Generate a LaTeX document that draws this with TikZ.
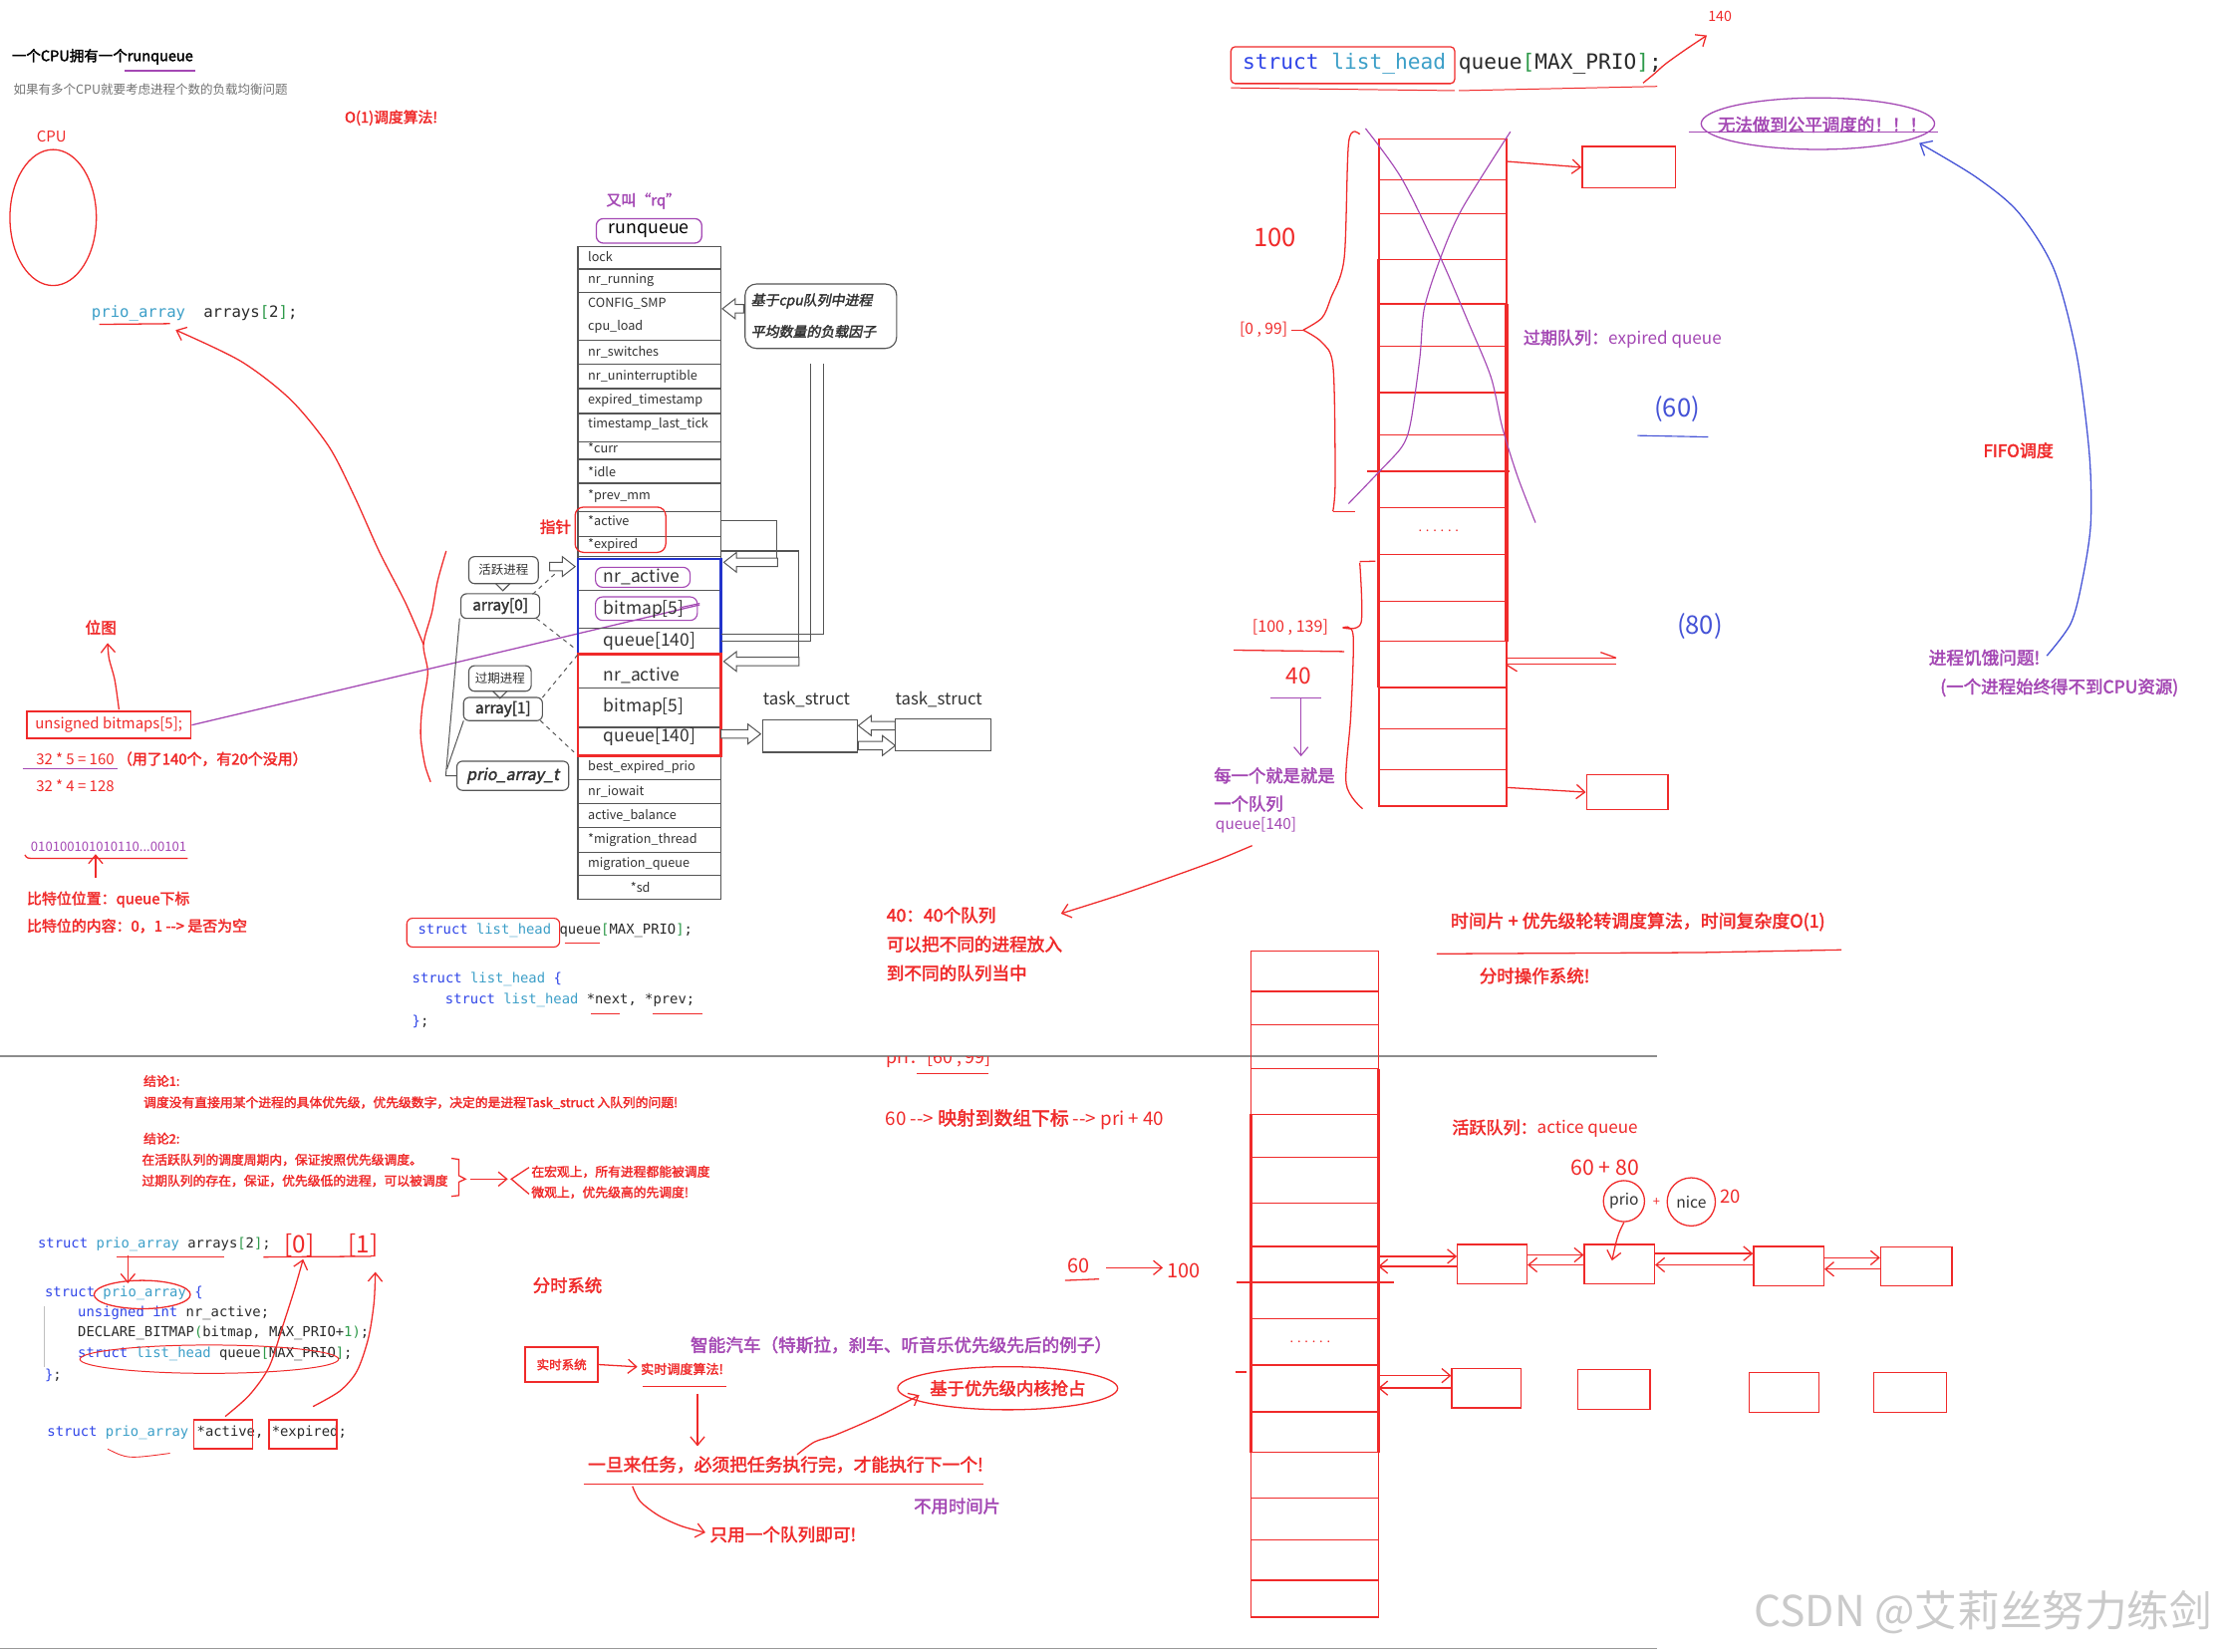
\documentclass[tikz,border=0pt]{standalone}
\usepackage{fontspec}
\setmainfont{Noto Sans CJK SC}[AutoFakeBold=2.2,AutoFakeSlant=0.2]
\newfontfamily\codefont{DejaVu Sans Mono}
\usetikzlibrary{arrows.meta,shapes.geometric}
\definecolor{rd}{HTML}{F02A2A}
\definecolor{pu}{HTML}{A448B4}
\definecolor{hb}{HTML}{4452D6}
\definecolor{bx}{HTML}{2233CC}
\definecolor{kw}{HTML}{2F45E8}
\definecolor{ty}{HTML}{3C9FC8}
\definecolor{cd}{HTML}{2A2A2A}
\definecolor{gr}{HTML}{2E9A4A}
\definecolor{ln}{HTML}{555555}
\definecolor{tt}{HTML}{333333}
\definecolor{wm}{HTML}{CACACA}
\newcommand\fsz[1]{\fontsize{#1}{#1}\selectfont}
\newcommand\blkL[3]{\draw[ln,fill=white,line width=0.7pt] (#1,#2) -- ++(9,-7) -- ++(0,4) -- ++(#3-9,0) -- ++(0,6) -- ++(9-#3,0) -- ++(0,4) -- cycle;}
\newcommand\blkR[3]{\draw[ln,fill=white,line width=0.7pt] (#1,#2) -- ++(-9,-7) -- ++(0,4) -- ++(9-#3,0) -- ++(0,6) -- ++(#3-9,0) -- ++(0,4) -- cycle;}
\tikzset{
  tx/.style={inner sep=0pt,anchor=west},
  txc/.style={inner sep=0pt,anchor=center},
  rline/.style={rd,line width=0.9pt},
  rarr/.style={rd,line width=0.9pt,-{Straight Barb[length=6pt,width=10pt]}},
  tbl/.style={ln,line width=0.8pt},
  qbox/.style={draw=rd,line width=0.9pt,inner sep=0pt},
  rbub/.style={draw=ln,rounded corners=4pt,line width=0.8pt,inner sep=0pt},
  code/.style={inner sep=0pt,anchor=west,font=\codefont\fsz{9.75}},
}
\begin{document}
\begin{tikzpicture}[x=1pt,y=-1pt]
\useasboundingbox (0,0) rectangle (1568,1166);
\fill[white] (0,0) rectangle (1568,1166);

% ---------------- top left ----------------
\node[tx] (title) at (8.2,40) {\fsz{10.2}\bfseries 一个CPU拥有一个runqueue};
\draw[pu,line width=0.9pt] (88,50) -- (137.6,50);
\node[tx] (sub) at (9.4,63.3) {\fsz{8.8}\color{black!55}如果有多个CPU就要考虑进程个数的负载均衡问题};
\node[tx] (o1) at (243.2,83.2) {\fsz{10.4}\bfseries\color{rd}O(1)调度算法!};
\node[tx] (cpul) at (25.8,96.6) {\fsz{10.5}\color{rd}CPU};
\node[draw=rd,ellipse,minimum width=61pt,minimum height=96pt,inner sep=0pt,line width=0.9pt] (cpu) at (37.5,153.6) {};
\node[tx] (pa1) at (64.5,220.9) {\codefont\fsz{11}\color{ty}prio\_array};
\node[tx] (pa2) at (143.5,220.9) {\codefont\fsz{11}\color{cd}arrays\color{gr}[\color{cd}2\color{gr}]\color{cd};};
\draw[rline] (70,229) -- (120,228.5);

% long red curve and brace
\draw[rarr] plot[smooth] coordinates {(299,455) (286,425) (268,390) (250,350) (232,315) (205,282) (170,255) (124,233)};
\draw[rline] plot[smooth] coordinates {(315,389) (309,410) (305,432) (299,455) (302,475) (298,500) (297,520) (300,540) (304,552)};

% bitmap area
\node[tx] (wt) at (60,443) {\fsz{11}\bfseries\color{rd}位图};
\draw[rarr] plot[smooth] coordinates {(84,501) (81,480) (77,465) (76,454)};
\node[draw=rd,line width=1.2pt,minimum width=116pt,minimum height=19.2pt,inner sep=0pt] (bmbox) at (76.8,511.9) {\fsz{10.5}\color{rd}unsigned bitmaps[5];};
\draw[pu,line width=0.9pt] (bmbox.east) -- (494,427);
\node[tx] (c160) at (25.3,535.8) {\fsz{10.5}\color{rd}32 * 5 = 160 {\bfseries（用了140个，有20个没用）}};
\draw[pu,line width=0.9pt] (15.9,542.8) -- (83.2,542.8);
\node[tx] (c128) at (25.3,554.5) {\fsz{10.5}\color{rd}32 * 4 = 128};
\node[tx] (bits) at (21.6,598) {\fsz{9.2}\color{pu}010100101010110...00101};
\draw[rline] (17.6,603.5) .. controls (19,606) .. (25,606) -- (132.5,606);
\draw[rarr] (67.5,620) -- (67.5,603);
\node[tx] (bp1) at (18.8,635) {\fsz{10.5}\bfseries\color{rd}比特位位置：queue下标};
\node[tx] (bp2) at (18.8,653.7) {\fsz{10.5}\bfseries\color{rd}比特位的内容：0，1 -{}-> 是否为空};

% ---------------- runqueue ----------------
\node[txc] (alias) at (454.3,141.9) {\fsz{10.5}\bfseries\color{pu}又叫“rq”};
\node[draw=pu,rounded corners=5pt,line width=0.9pt,minimum width=74.5pt,minimum height=17.3pt,inner sep=0pt] (rq) at (458.2,163) {\fsz{12.5}runqueue};
\node[draw=ln,line width=0.8pt,minimum width=101pt,minimum height=460.5pt,inner sep=0pt] (rqt) at (458.5,404.45) {};
\foreach \y in {189.9,206.3,240.3,257.2,274.3,291.9,311.8,324.3,341.2,361.1,378.7,392.7,550.5,567.5,584.5,601.5,618}
  \draw[tbl] (408,\y) -- (509,\y);
\begin{scope}[every node/.style={tx,font=\fsz{8.9}\color{tt}}]
\node (f1) at (415,181.5) {lock};
\node (f2) at (415,197.5) {nr\_running};
\node (f3) at (415,214) {CONFIG\_SMP};
\node (f4) at (415,231) {cpu\_load};
\node (f5) at (415,248.5) {nr\_switches};
\node (f6) at (415,265.5) {nr\_uninterruptible};
\node (f7) at (415,282.5) {expired\_timestamp};
\node (f8) at (415,299.5) {timestamp\_last\_tick};
\node (f9) at (415,316.5) {*curr};
\node (f10) at (415,333) {*idle};
\node (f11) at (415,350.5) {*prev\_mm};
\node (f12) at (415,367.5) {*active};
\node (f13) at (415,384.5) {*expired};
\node (f14) at (415,541.5) {best\_expired\_prio};
\node (f15) at (415,559) {nr\_iowait};
\node (f16) at (415,576) {active\_balance};
\node (f17) at (415,593) {*migration\_thread};
\node (f18) at (415,610) {migration\_queue};
\node (f19) at (445,626.5) {*sd};
\end{scope}
% blue and red blocks
\draw[tbl] (408,417) -- (509,417); \draw[tbl] (408,443.6) -- (509,443.6);
\draw[tbl] (408,485.8) -- (509,485.8); \draw[tbl] (408,513.5) -- (509,513.5);
\draw[bx,line width=1.6pt] (408,394.4) rectangle (509,461.9);
\draw[rd,line width=1.8pt] (408,461.9) rectangle (509,533.4);
\begin{scope}[every node/.style={tx,font=\fsz{12.3}\color{tt}}]
\node (a1) at (426,407.6) {nr\_active};
\node (a2) at (426,430) {bitmap[5]};
\node (a3) at (426,452.5) {queue[140]};
\node (e1) at (426,477) {nr\_active};
\node (e2) at (426,499) {bitmap[5]};
\node (e3) at (426,520.5) {queue[140]};
\end{scope}
\draw[pu,rounded corners=5pt,line width=0.8pt] (420.4,400.5) rectangle (487.2,414.6);
\draw[pu,rounded corners=5pt,line width=0.8pt] (420.4,421.4) rectangle (492.3,438);
\draw[pu,line width=0.8pt] (480,429) -- (494,426);
% pointer highlight
\draw[rd,rounded corners=6pt,line width=0.9pt] (406,358) rectangle (470,390);
\node[tx] (zz) at (381,372) {\fsz{11}\bfseries\color{rd}指针};
% connectors on the right
\draw[tbl] (509,367.5) -- (548.4,367.5) -- (548.4,394);
\blkL{511}{397}{38}
\draw[tbl] (509,447.8) -- (581.7,447.8) -- (581.7,257);
\draw[tbl] (509,452.5) -- (572,452.5) -- (572,257);
\draw[tbl] (509,389) -- (563.7,389) -- (563.7,464);
\blkL{511}{467}{53}
% callout
\node[rbub,rounded corners=8pt,minimum width=107pt,minimum height=45.5pt] (load) at (579.5,223.25) {};
\node[tx] (load1) at (530,212.5) {\fsz{9.8}\bfseries\itshape\color{tt}基于cpu队列中进程};
\node[tx] (load2) at (530,234) {\fsz{9.8}\bfseries\itshape\color{tt}平均数量的负载因子};
\blkL{510}{218}{15}
% left labels
\node[rbub,minimum width=49pt,minimum height=19pt] (act) at (355.5,402.5) {\fsz{8.8}\color{tt}活跃进程};
\draw[ln,line width=0.8pt] (350,412) -- (355,417) -- (360,412);
\node[rbub,minimum width=55.6pt,minimum height=17.4pt] (arr0) at (353.2,427.9) {\fsz{10.8}\bfseries\color{tt}array[0]};
\node[rbub,minimum width=44pt,minimum height=18pt] (exp) at (353,479) {\fsz{8.8}\color{tt}过期进程};
\draw[ln,line width=0.8pt] (348,488) -- (353,493) -- (358,488);
\node[rbub,minimum width=55.7pt,minimum height=16.4pt] (arr1) at (355.1,500.6) {\fsz{10.8}\bfseries\color{tt}array[1]};
\node[rbub,minimum width=79pt,minimum height=20.6pt] (pat) at (362,547.7) {\fsz{11.3}\bfseries\itshape\color{tt}prio\_array\_t};
\blkR{406}{400}{18}
\draw[ln,line width=0.7pt] (pat.west) -- (314.7,547.7) -- (324.5,436.6);
\draw[ln,line width=0.7pt] (315.5,543) -- (327.3,508.8);
\draw[ln,dashed,line width=0.7pt] (376,419.5) -- (392,405);
\draw[ln,dashed,line width=0.7pt] (378.7,436.6) -- (406.6,458.4);
\draw[ln,dashed,line width=0.7pt] (383,492.4) -- (408,462);
\draw[ln,dashed,line width=0.7pt] (381.5,508.8) -- (405.2,531);
% task_struct
\node[tx] (ts1l) at (538.6,493.6) {\fsz{11.8}\color{tt}task\_struct};
\node[tx] (ts2l) at (632,493.6) {\fsz{11.8}\color{tt}task\_struct};
\node[draw=ln,line width=0.8pt,minimum width=66.8pt,minimum height=22.8pt,inner sep=0pt] (ts1) at (572,519.7) {};
\node[draw=ln,line width=0.8pt,minimum width=67.6pt,minimum height=22.4pt,inner sep=0pt] (ts2) at (665.6,518.8) {};
\blkR{537}{518.2}{28}
\blkL{606}{512.3}{26}
\blkR{632}{526.4}{26}

% code under runqueue
\draw[rd,rounded corners=4pt,line width=0.8pt] (287.2,648.3) rectangle (395.1,668.6);
\node[code] (lh1) at (295,657.2) {\color{kw}struct \color{ty}list\_head \color{cd}queue\color{gr}[\color{cd}MAX\_PRIO\color{gr}]\color{cd};};
\node[code] (lh2) at (290.8,691.2) {\color{kw}struct \color{ty}list\_head \color{kw}\{};
\node[code] (lh3) at (314.2,706.2) {\color{kw}struct \color{ty}list\_head \color{cd}*next, *prev;};
\node[code] (lh4) at (290.8,721.2) {\color{kw}\}\color{cd};};
\draw[rline,line width=0.6pt] (398.6,666) -- (423.2,666);
\draw[rline,line width=0.6pt] (417.4,715.5) -- (437.3,715.5);
\draw[rline,line width=0.6pt] (460.7,715.5) -- (496,715.5);

% dividers
\draw[black!45,line width=1.2pt] (0,745.5) -- (1170,745.5);
\draw[black!40,line width=1pt] (0,1164) -- (1170,1164);

% ---------------- conclusions ----------------
\begin{scope}[every node/.style={tx,font=\fsz{9}\bfseries\color{rd}}]
\node (k1) at (101.2,763.2) {结论1:};
\node (k1t) at (101.2,778.5) {调度没有直接用某个进程的具体优先级，优先级数字，决定的是进程Task\_struct 入队列的问题!};
\node (k2) at (101.2,803.8) {结论2:};
\node (k2a) at (100,818.8) {在活跃队列的调度周期内，保证按照优先级调度。};
\node (k2b) at (100,833.6) {过期队列的存在，保证，优先级低的进程，可以被调度};
\node (m1) at (375,827.2) {在宏观上，所有进程都能被调度};
\node (m2) at (375,841.8) {微观上，优先级高的先调度!};
\end{scope}
\draw[rline] (318.7,817.8) -- (324,818.5) -- (324,830) -- (328.6,832.4) -- (324,834.5) -- (324,844) -- (318.7,844.6);
\draw[rarr] (332,832.4) -- (358.5,832.4);
\draw[rline] (373.5,824.2) -- (361,832.4) -- (373.5,843);

% code bottom left
\node[code] (pc1) at (26.6,878.6) {\color{kw}struct \color{ty}prio\_array \color{cd}arrays\color{gr}[\color{cd}2\color{gr}]\color{cd};};
\draw[rline] (82.5,887.5) -- (158,887.5);
\draw[rline] (186,887.5) -- (262,887);
\node[tx] (i0) at (200.8,879.3) {\fsz{17}\color{rd}[0]};
\node[tx] (i1) at (245.7,879.3) {\fsz{17}\color{rd}[1]};
\draw[rarr] (90.3,886) -- (90.3,906);
\node[code] (pc2) at (31.5,913.3) {\color{kw}struct \color{ty}prio\_array \color{kw}\{};
\node[code] (pc3) at (54.8,927.3) {\color{kw}unsigned int \color{cd}nr\_active;};
\node[code] (pc4) at (54.8,941.4) {\color{cd}DECLARE\_BITMAP\color{gr}(\color{cd}bitmap, MAX\_PRIO+\color{gr}1)\color{cd};};
\node[code] (pc5) at (54.8,956.2) {\color{kw}struct \color{ty}list\_head \color{cd}queue\color{gr}[\color{cd}MAX\_PRIO\color{gr}]\color{cd};};
\node[code] (pc6) at (31.5,970.7) {\color{kw}\}\color{cd};};
\draw[black!25,line width=0.8pt] (31.5,922) -- (31.5,965);
\draw[rline] (100.4,914) ellipse [x radius=34, y radius=10];
\draw[rline,line width=0.7pt] (147.7,959.6) ellipse [x radius=91.3, y radius=10];
\node[code] (pc7) at (33.2,1011.3) {\color{kw}struct \color{ty}prio\_array \color{cd}*active, *expired;};
\draw[rd,line width=1.2pt] (136.8,1002.4) rectangle (178.3,1022.8);
\draw[rd,line width=1.2pt] (190,1002.4) rectangle (238,1022.8);
\draw[rline,line width=0.6pt] (76,1023) .. controls (90,1030) .. (120,1026);
\draw[rarr] plot[smooth] coordinates {(159,1000) (176,985) (190,965) (200,935) (208,910) (214,889)};
\draw[rarr] plot[smooth] coordinates {(221,993) (240,982) (252,968) (260,945) (264,920) (265,898)};

% ---------------- bottom middle ----------------
\node[tx] (fs) at (376,907.4) {\fsz{12.2}\bfseries\color{rd}分时系统};
\node[tx] (car) at (487.3,949.6) {\fsz{12.4}\bfseries\color{pu}智能汽车（特斯拉，刹车、听音乐优先级先后的例子）};
\node[draw=rd,line width=1.2pt,minimum width=51.2pt,minimum height=25pt,inner sep=0pt] (rts) at (396.5,963.4) {\fsz{8.8}\bfseries\color{rd}实时系统};
\draw[rarr] (rts.east) -- (450,965);
\node[tx] (rta) at (452.2,966.5) {\fsz{9.2}\bfseries\color{rd}实时调度算法!};
\draw[rline] (453.7,979) -- (513,979);
\draw[rarr] (492.4,984) -- (492.4,1021);
\node[tx] (once) at (414.9,1034) {\fsz{12.5}\bfseries\color{rd}一旦来任务，必须把任务执行完，才能执行下一个!};
\draw[rline] (412,1047.6) -- (694,1047.6);
\node[draw=rd,ellipse,minimum width=122pt,minimum height=30.4pt,inner sep=0pt,line width=0.9pt] (pre) at (711.4,980.1) {\fsz{12.2}\bfseries\color{rd}基于优先级内核抢占};
\draw[rarr] plot[smooth] coordinates {(562.7,1027) (575,1018) (590,1013) (620,1000) (649,985)};
\node[tx] (nots) at (645,1063.3) {\fsz{12.2}\bfseries\color{pu}不用时间片};
\draw[rarr] plot[smooth] coordinates {(446.5,1049.3) (452,1060) (465,1070) (481,1077.4) (498,1082)};
\node[tx] (one) at (501,1083.3) {\fsz{12.4}\bfseries\color{rd}只用一个队列即可!};

% ---------------- middle ----------------
\begin{scope}[every node/.style={tx,font=\fsz{12.4}\bfseries\color{rd}}]
\node (q40a) at (625.7,646) {40：40个队列};
\node (q40b) at (625.7,666.6) {可以把不同的进程放入};
\node (q40c) at (625.7,687) {到不同的队列当中};
\end{scope}
\draw[rarr] plot[smooth] coordinates {(884,597) (860,607) (830,618) (790,632) (749,645)};
\begin{scope}
\clip (600,746.3) rectangle (720,765);
\node[tx] (pri) at (625.7,747.5) {\fsz{12.5}\color{rd}pri：[60 , 99]};
\end{scope}
\draw[rline] (647.3,758) -- (697.5,758);
\node[tx] (map) at (624.9,790.2) {\fsz{13.2}\color{rd}60 -{}-> {\bfseries 映射到数组下标} -{}-> pri + 40};
\node[tx] (h60) at (753.7,893.4) {\fsz{14}\color{rd}60};
\draw[rline] (751.9,904) -- (776,903);
\draw[rarr] (781,895) -- (821,895);
\node[tx] (h100) at (824,897) {\fsz{14}\color{rd}100};

% ---------------- top right ----------------
\draw[rd,rounded corners=3pt,line width=0.9pt] (869,33) rectangle (1027,59);
\draw[rline,line width=0.7pt] (869,62) -- (1027,64);
\draw[rline,line width=0.7pt] (1030,64) -- (1170,61);
\node[tx] (qm) at (877,45.3) {\codefont\fsz{14.9}\color{kw}struct \color{ty}list\_head \color{cd}queue\color{gr}[\color{cd}MAX\_PRIO\color{gr}]\color{cd};};
\draw[rarr] plot[smooth] coordinates {(1160,58.6) (1168,52) (1176,45) (1190,35) (1205,25)};
\node[tx] (n140) at (1205.7,11.7) {\fsz{10}\color{rd}140};
\node[draw=pu,ellipse,minimum width=164.8pt,minimum height=36.4pt,inner sep=0pt,line width=0.9pt] (fair) at (1283.4,87.3) {};
\node[tx] (fairt) at (1212.5,87.9) {\fsz{12.3}\bfseries\color{pu}无法做到公平调度的！！！};
\draw[pu,line width=0.9pt] (1192,93.3) -- (1368.2,93.3);
\draw[hb,line width=0.9pt,-{Straight Barb[length=7pt,width=12pt]}] plot[smooth] coordinates {(1445,463) (1462,440) (1470,410) (1476,370) (1475,320) (1466,250) (1450,190) (1425,150) (1395,125) (1355,101)};
\node[tx] (fifo) at (1400,318) {\fsz{12}\bfseries\color{rd}FIFO调度};
\node[tx] (starv) at (1361.5,464.3) {\fsz{12.4}\bfseries\color{pu}进程饥饿问题!};
\node[tx] (starv2) at (1369.6,485.4) {\fsz{12.3}\bfseries\color{pu}(一个进程始终得不到CPU资源)};

% expired queue
\node[draw=rd,line width=0.9pt,minimum width=90.1pt,minimum height=470.8pt,inner sep=0pt] (expq) at (1018.55,333.7) {};
\foreach \y in {127,150.8,183,214.5,244.7,277.2,307.3,358.4,391.6,424.5,452.9,485.4,514.8,543.5}
  \draw[rd,line width=0.9pt] (973.5,\y) -- (1063.6,\y);
\draw[rd,line width=0.9pt] (965,332.8) -- (1066,332.8);
\draw[rd,line width=2.2pt] (973.5,183) -- (973.5,485.4);
\draw[rd,line width=2.2pt] (1063.6,214.5) -- (1063.6,452.9);
\node[txc] (dots1) at (1015.6,375) {\fsz{9}\color{rd}. . . . . .};
\draw[pu,line width=0.8pt] plot[smooth] coordinates {(964,90.7) (989.7,126.3) (1017,182) (1036.8,228) (1052.6,266.3) (1060.5,301.3) (1071.3,336.2) (1084,369)};
\draw[pu,line width=0.8pt] plot[smooth] coordinates {(1066.3,93) (1032.2,147.4) (1017,182) (1005.6,217.4) (1002.4,252.3) (996,297.8) (990,315) (974,332.7) (952,355.6)};
\node[qbox,minimum width=66pt,minimum height=29.2pt] (eb1) at (1150,118.1) {};
\node[qbox,minimum width=57.6pt,minimum height=24.5pt] (eb2) at (1148.8,559.3) {};
\draw[rarr] (1064,114) -- (eb1.west);
\draw[rarr] (1064,556) -- (eb2.west);
\draw[rline] (1063,464.5) -- (1141,464.5);
\draw[rline] (1063,469) -- (1141,469);
\draw[rline] (1130,460.5) -- (1141,464.5);
\draw[rline] (1063,469) -- (1071,474);
% braces
\draw[rline] plot[smooth] coordinates {(960,94.8) (952.2,100) (949,182.2) (939.6,210.3) (933.3,224.4) (920,233)};
\draw[rline] plot[smooth] coordinates {(920,233) (933.3,241.8) (941.2,259.4) (942.6,339.8) (941,361)};
\draw[rline] (941,361) -- (956.7,361);
\node[tx] (r099) at (875,233) {\fsz{11}\color{rd}[0 , 99]};
\draw[rline] (912,233) -- (920,233);
\node[txc] (h100b) at (900,168) {\fsz{18}\color{rd}100};
\draw[rline] (960,396.5) -- (971,396.2);
\draw[rline] plot[smooth] coordinates {(960,397.4) (960.9,439.7) (948,443.2)};
\draw[rline] plot[smooth] coordinates {(948,443.2) (955.3,448.3) (953.7,504.4) (950.4,553.3) (962,571)};
\node[tx] (r100) at (884,443.2) {\fsz{11.3}\color{rd}[100 , 139]};
\draw[rline] (871,459) -- (949,460);
\node[txc] (h40) at (917,477) {\fsz{16}\color{rd}40};
\draw[pu,line width=0.8pt] (897,493) -- (933,493);
\draw[pu,line width=0.8pt,-{Straight Barb[length=6pt,width=10pt]}] (918.5,493) -- (918.5,534);
\node[tx] (each1) at (856.8,547.5) {\fsz{12.2}\bfseries\color{pu}每一个就是就是};
\node[tx] (each2) at (856.8,567.4) {\fsz{12.2}\bfseries\color{pu}一个队列};
\node[tx] (each3) at (858,582.7) {\fsz{10.8}\color{pu}queue[140]};
\node[tx] (expl) at (1075.3,239.2) {\fsz{12}\color{pu}{\bfseries 过期队列：}expired queue};
\node[txc] (b60) at (1184,289) {\fsz{18}\color{hb}(60)};
\draw[hb,line width=0.8pt] (1156,307.5) -- (1206,308.5);
\node[txc] (b80) at (1200,442) {\fsz{18}\color{hb}(80)};

% ---------------- bottom right ----------------
\node[tx] (tslice) at (1024,650.7) {\fsz{12.6}\bfseries\color{rd}时间片 + 优先级轮转调度算法，时间复杂度O(1)};
\draw[rline] (1014.2,673.4) -- (1200,672.5) -- (1300,670.6);
\node[tx] (tsos) at (1044.3,688.9) {\fsz{12.3}\bfseries\color{rd}分时操作系统!};
\node[draw=rd,line width=0.9pt,minimum width=90pt,minimum height=470.1pt,inner sep=0pt] (actq) at (928,906.55) {};
\foreach \y in {700,723.3,754.6,786.6,817,849.5,880,930.8,963.8,996.7,1025.5,1057.6,1087.2,1115.6}
  \draw[rd,line width=0.9pt] (883,\y) -- (973,\y);
\draw[rd,line width=0.9pt] (873,905.3) -- (984,905.3);
\draw[rd,line width=0.9pt] (872,968.6) -- (880,968.6);
\draw[rd,line width=2.2pt] (883,786.6) -- (883,1025.5);
\draw[rd,line width=2.2pt] (973,754.6) -- (973,1025.5);
\node[txc] (dots2) at (925,947.5) {\fsz{9}\color{rd}. . . . . .};
\node[tx] (actl) at (1025,796.8) {\fsz{12}\color{rd}{\bfseries 活跃队列：}actice queue};
\node[tx] (h6080) at (1108.6,824.5) {\fsz{15}\color{rd}60 + 80};
\node[draw=rd,circle,minimum size=29pt,inner sep=0pt,line width=0.9pt] (prio) at (1146.5,848) {\fsz{11}\color{tt}prio};
\node[txc] (plus) at (1169.5,849) {\fsz{9}\color{rd}+};
\node[draw=rd,circle,minimum size=34pt,inner sep=0pt,line width=0.9pt] (nice) at (1194,848.5) {\fsz{11}\color{tt}nice};
\node[tx] (h20) at (1214,844.6) {\fsz{13}\color{rd}20};
% row 1 boxes
\node[qbox,minimum width=49pt,minimum height=27.7pt] (r1a) at (1053.5,892.5) {};
\node[qbox,minimum width=49.5pt,minimum height=27.7pt] (r1b) at (1143.3,892.5) {};
\node[qbox,minimum width=49.5pt,minimum height=28pt] (r1c) at (1262.8,894) {};
\node[qbox,minimum width=50.3pt,minimum height=27.5pt] (r1d) at (1352.9,894.3) {};
\draw[rarr] (prio.south) .. controls (1142,872) .. (1138,890);
\draw[rarr] (973,887) -- ([yshift=5.5pt]r1a.west);
\draw[rarr] ([yshift=-1.5pt]r1a.west) -- (973,894);
\draw[rarr] ([yshift=6.5pt]r1a.east) -- ([yshift=6.5pt]r1b.west);
\draw[rarr] ([yshift=-0.5pt]r1b.west) -- ([yshift=-0.5pt]r1a.east);
\draw[rarr] ([yshift=7.5pt]r1b.east) -- ([yshift=9pt]r1c.west);
\draw[rarr] ([yshift=1pt]r1c.west) -- ([yshift=-0.5pt]r1b.east);
\draw[rarr] ([yshift=6pt]r1c.east) -- ([yshift=6.3pt]r1d.west);
\draw[rarr] ([yshift=-1.7pt]r1d.west) -- ([yshift=-2pt]r1c.east);
% row 2 boxes
\node[qbox,minimum width=49pt,minimum height=27.7pt] (r2a) at (1049.5,980.2) {};
\node[qbox,minimum width=51pt,minimum height=28pt] (r2b) at (1139.5,981) {};
\node[qbox,minimum width=49pt,minimum height=28pt] (r2c) at (1259.5,983) {};
\node[qbox,minimum width=51pt,minimum height=28pt] (r2d) at (1348.5,983) {};
\draw[rarr] (973,971.2) -- ([yshift=9pt]r2a.west);
\draw[rarr] ([yshift=0.2pt]r2a.west) -- (973,980);

% watermark
\node[tx] (wmk) at (1238,1138) {\fsz{30}\color{wm}CSDN @艾莉丝努力练剑};
\end{tikzpicture}
\end{document}
